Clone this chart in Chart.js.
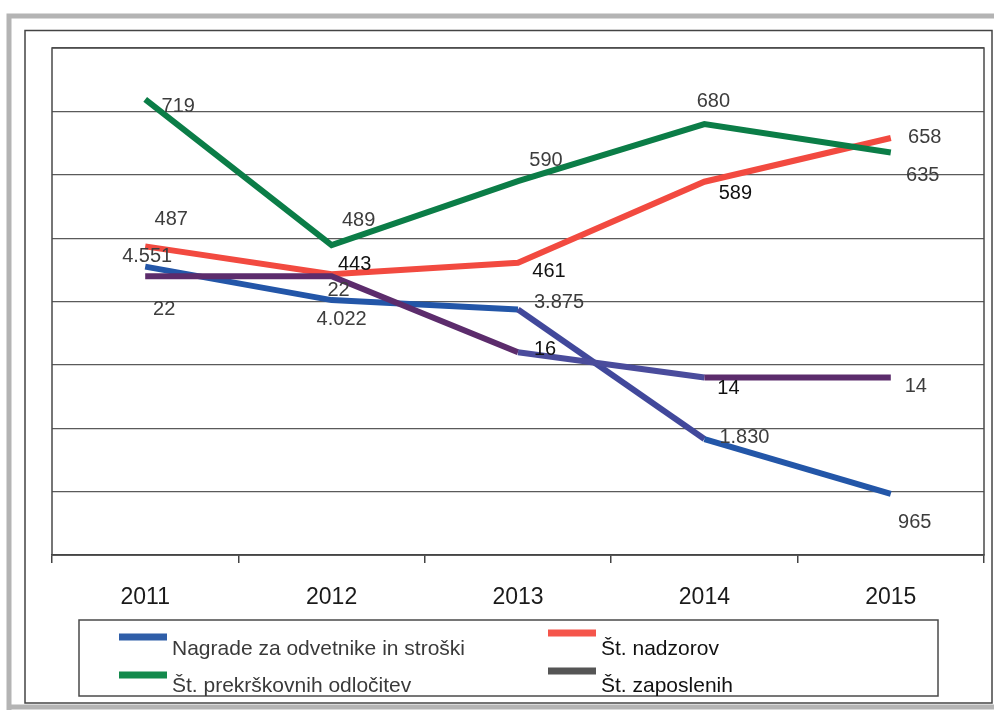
<!DOCTYPE html>
<html>
<head>
<meta charset="utf-8">
<script src="https://cdn.jsdelivr.net/npm/chart.js@4.4.0/dist/chart.umd.min.js"></script>
<style>
  html, body { margin: 0; padding: 0; background: #fff; }
  #wrap { width: 994px; height: 710px; position: relative; }
</style>
</head>
<body>
<div id="wrap"><canvas id="c"></canvas></div>
<script>
// ---- data ----
const categories = ['2011', '2012', '2013', '2014', '2015'];
const nagrade = [4551, 4022, 3875, 1830, 965];      // Nagrade za odvetnike in stroški
const odlocitve = [719, 489, 590, 680, 635];        // Št. prekrškovnih odločitev
const nadzori = [487, 443, 461, 589, 658];          // Št. nadzorov
const zaposleni = [22, 22, 16, 14, 14];             // Št. zaposlenih
const seriesNames = ['Nagrade za odvetnike in stroški', 'Št. nadzorov', 'Št. prekrškovnih odločitev', 'Št. zaposlenih'];

const FONT = '"Liberation Sans", Arial, sans-serif';

function fmt(n) { return String(n).replace(/\B(?=(\d{3})+(?!\d))/g, '.'); }

// label placement (style only): [dx, dy, color] per point
const GRAY = '#3d3d3d', BLACK = '#111';
const labelStyle = [
  [[2,-10,GRAY],[10,19,GRAY],[41,-7,GRAY],[40,-2,GRAY],[24,29,GRAY]],     // nagrade
  [[26,-27,GRAY],[23,-10,BLACK],[31,9,BLACK],[31,12,BLACK],[34,-1,GRAY]], // nadzori
  [[33,7,GRAY],[27,-25,GRAY],[28,-21,GRAY],[9,-23,GRAY],[32,23,GRAY]],    // odlocitve
  [[19,33,GRAY],[7,14,GRAY],[27,-3,BLACK],[24,11,BLACK],[25,9,GRAY]]      // zaposleni
];
const legendColors = ['#2f5ea8', '#f5554b', '#138a4c', '#555555'];

const framePlugin = {
  id: 'frame',
  beforeDraw(chart) {
    const c = chart.ctx;
    c.save();
    c.fillStyle = '#fff';
    c.fillRect(0, 0, chart.width, chart.height);
    // scanned outer grey band
    c.strokeStyle = '#b4b4b4';
    c.lineWidth = 5;
    c.beginPath();
    c.moveTo(9, 710); c.lineTo(9, 16); c.lineTo(994, 16);
    c.moveTo(9, 707); c.lineTo(994, 707);
    c.stroke();
    // inner frame
    c.strokeStyle = '#444';
    c.lineWidth = 1.5;
    c.strokeRect(25, 30.5, 967, 672.5);
    c.restore();
  },
  beforeDatasetsDraw(chart) {
    const a = chart.chartArea, c = chart.ctx;
    c.save();
    c.strokeStyle = '#4a4a4a';
    c.lineWidth = 1.5;
    c.strokeRect(a.left, a.top, a.right - a.left, a.bottom - a.top);
    c.restore();
  },
  afterDatasetsDraw(chart) {
    const c = chart.ctx;
    c.save();
    c.font = '20px ' + FONT;
    c.textAlign = 'center';
    c.textBaseline = 'middle';
    chart.data.datasets.forEach((ds, i) => {
      const meta = chart.getDatasetMeta(i);
      meta.data.forEach((pt, j) => {
        const s = labelStyle[i][j];
        c.fillStyle = s[2];
        c.fillText(fmt(ds.data[j]), pt.x + s[0], pt.y + s[1]);
      });
    });
    c.restore();
  },
  afterDraw(chart) {
    const c = chart.ctx;
    c.save();
    // legend box
    c.strokeStyle = '#4a4a4a';
    c.lineWidth = 1.5;
    c.strokeRect(79, 620, 859, 76);
    c.font = '21px ' + FONT;
    c.textAlign = 'left';
    c.textBaseline = 'alphabetic';
    const items = [
      {x: 119, sy: 637, ty: 655, i: 0},
      {x: 548, sy: 633, ty: 655, i: 1},
      {x: 119, sy: 675, ty: 692, i: 2},
      {x: 548, sy: 671, ty: 692, i: 3}
    ];
    items.forEach(it => {
      c.fillStyle = legendColors[it.i];
      c.fillRect(it.x, it.sy - 3.5, 48, 7);
      c.fillStyle = it.i % 2 === 1 ? '#111' : '#3a3a3a';
      c.fillText(seriesNames[it.i], it.x + 53, it.ty);
    });
    c.restore();
  }
};

const common = {
  borderWidth: 6,
  pointRadius: 0,
  pointHoverRadius: 0,
  fill: false,
  tension: 0,
  borderCapStyle: 'butt',
  borderJoinStyle: 'miter'
};

new Chart(document.getElementById('c'), {
  type: 'line',
  data: {
    labels: categories,
    datasets: [
      Object.assign({}, common, {
        label: seriesNames[0], data: nagrade, yAxisID: 'yN', borderColor: '#2356a8', order: 3,
        segment: { borderColor: ctx => ctx.p0DataIndex === 2 ? '#41489b' : undefined }
      }),
      Object.assign({}, common, {
        label: seriesNames[1], data: nadzori, yAxisID: 'y', borderColor: '#f24a40', order: 2
      }),
      Object.assign({}, common, {
        label: seriesNames[2], data: odlocitve, yAxisID: 'y', borderColor: '#0b7d47', order: 1
      }),
      Object.assign({}, common, {
        label: seriesNames[3], data: zaposleni, yAxisID: 'yZ', borderColor: '#5c2c6c', order: 0,
        segment: { borderColor: ctx => ctx.p0DataIndex === 2 ? '#4a4c9c' : undefined }
      })
    ]
  },
  options: {
    responsive: true,
    maintainAspectRatio: false,
    animation: false,
    devicePixelRatio: 1,
    layout: { padding: { left: 52, right: 10, top: 48, bottom: 0 } },
    plugins: { legend: { display: false }, tooltip: { enabled: false } },
    scales: {
      x: {
        offset: true,
        grid: { offset: true, drawOnChartArea: false, drawTicks: true, tickLength: 8, color: '#444', lineWidth: 1.5 },
        border: { display: true, color: '#3a3a3a', width: 1.5 },
        ticks: { font: { size: 23, family: FONT }, color: '#1a1a1a', padding: 21 },
        afterFit(s) { s.height = 155; }
      },
      y: {
        min: 0, max: 800,
        ticks: { display: false, stepSize: 100 },
        grid: { color: '#5a5a5a', lineWidth: 1.2, drawTicks: false },
        border: { display: false },
        afterFit(s) { s.width = 0; }
      },
      yN: { display: false, min: 0, max: 8000 },
      yZ: { display: false, min: 0, max: 40 }
    }
  },
  plugins: [framePlugin]
});
</script>
</body>
</html>
